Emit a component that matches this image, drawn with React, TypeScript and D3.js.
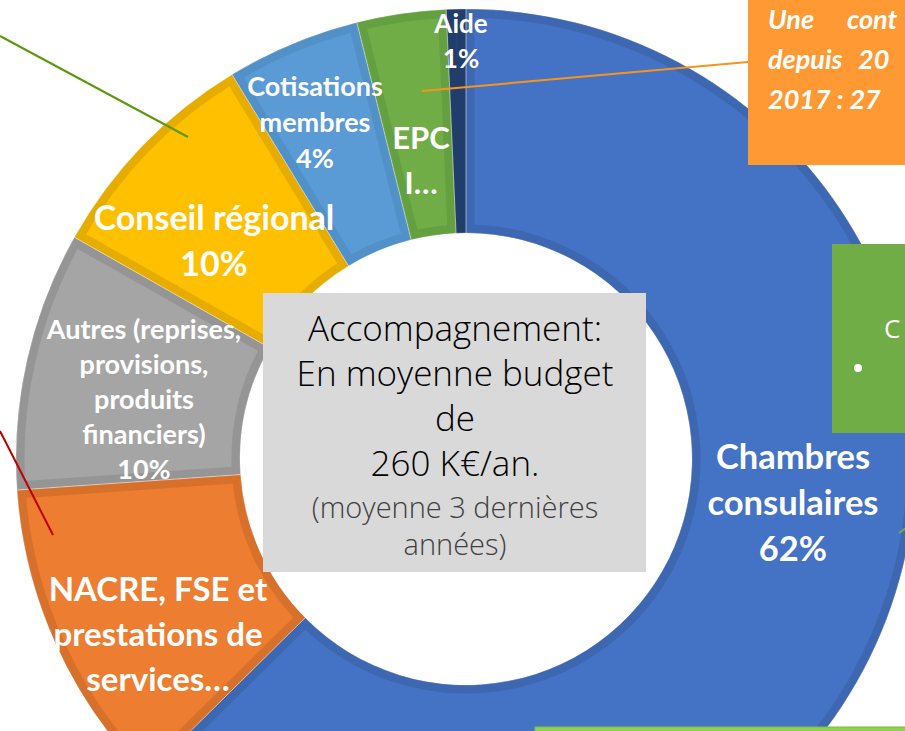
import React from "react";
import * as d3 from "d3";

// ---- Data ----
const categories = [
  "Chambres consulaires",
  "NACRE, FSE et prestations de services",
  "Autres (reprises, provisions, produits financiers)",
  "Conseil régional",
  "Cotisations membres",
  "EPCI",
  "Aide",
];
const values = [62.6, 11.3, 9.3, 8.1, 4.8, 3.2, 0.7];
const labelLines = [
  ["Chambres", "consulaires", "62%"],
  ["NACRE, FSE et", "prestations de", "services…"],
  ["Autres (reprises,", "provisions,", "produits", "financiers)", "10%"],
  ["Conseil régional", "10%"],
  ["Cotisations", "membres", "4%"],
  ["EPC", "I…"],
  ["Aide", "1%"],
];
const fills = ["#4472C4", "#ED7D31", "#A5A5A5", "#FFC000", "#5B9BD5", "#70AD47", "#264478"];
const borders = ["#3E67B1", "#D6702B", "#959595", "#E6AD00", "#5290C8", "#65A040", "#213D6B"];

const centerLines = ["Accompagnement:", "En moyenne budget", "de", "260 K€/an."];
const centerSubLines = ["(moyenne 3 dernières", "années)"];
const calloutWords = [
  ["Une", "cont"],
  ["depuis", "20"],
  ["2017 : 27"],
];

// ---- Layout ----
const W = 905, H = 731;
const cx = 466, cy = 459, R = 450, r = 226;
const labelLayout = [
  { x: 793, y: 455, size: 34.5, lh: 46 },
  { x: 158, y: 588, size: 33, lh: 45 },
  { x: 144, y: 328, size: 27, lh: 35 },
  { x: 214, y: 216, size: 34, lh: 46 },
  { x: 315, y: 85, size: 27, lh: 36 },
  { x: 421, y: 137, size: 31, lh: 45 },
  { x: 461, y: 23, size: 26, lh: 35 },
];
const calloutX = [
  [768, 847],
  [768, 858],
  [768],
];

export default function App() {
  const pie = d3.pie<number>().sort(null).value((d) => d).startAngle(0).endAngle(2 * Math.PI);
  const arcs = pie(values);
  const arc = d3.arc<d3.PieArcDatum<number>>().innerRadius(r).outerRadius(R);

  return (
    <svg
      width={W}
      height={H}
      viewBox={`0 0 ${W} ${H}`}
      style={{ position: "absolute", left: 0, top: 0, background: "#fff" }}
      fontFamily="Lato, 'Open Sans', sans-serif"
    >
      <defs>
        {arcs.map((a, i) => (
          <clipPath id={`clip-${i}`} key={i}>
            <path d={arc(a) || ""} />
          </clipPath>
        ))}
      </defs>

      {/* donut slices */}
      <g transform={`translate(${cx},${cy})`}>
        {arcs.map((a, i) => (
          <path
            key={categories[i]}
            d={arc(a) || ""}
            fill={fills[i]}
            stroke={borders[i]}
            strokeWidth={17}
            clipPath={`url(#clip-${i})`}
          />
        ))}
        {arcs.map((a, i) => (
          <path
            key={"sep" + i}
            d={arc(a) || ""}
            fill="none"
            stroke="#ffffff"
            strokeOpacity={0.35}
            strokeWidth={0.8}
          />
        ))}
      </g>

      {/* slice labels */}
      {labelLines.map((lines, i) => {
        const L = labelLayout[i];
        return (
          <text
            key={"lab" + i}
            x={L.x}
            y={L.y}
            fill="#ffffff"
            fontWeight="bold"
            fontSize={L.size}
            textAnchor="middle"
            dominantBaseline="central"
          >
            {lines.map((t, j) => (
              <tspan key={j} x={L.x} y={L.y + j * L.lh}>
                {t}
              </tspan>
            ))}
          </text>
        );
      })}

      {/* center grey box */}
      <rect x={263} y={293} width={383} height={279} fill="#D9D9D9" />
      <text
        textAnchor="middle"
        dominantBaseline="central"
        fontFamily="'Open Sans', sans-serif"
        fontWeight={300}
        fill="#000"
        fontSize={35}
      >
        {centerLines.map((t, j) => (
          <tspan key={j} x={455} y={327 + j * 45}>
            {t}
          </tspan>
        ))}
      </text>
      <text
        textAnchor="middle"
        dominantBaseline="central"
        fontFamily="'Open Sans', sans-serif"
        fontWeight={300}
        fill="#404040"
        fontSize={29}
      >
        {centerSubLines.map((t, j) => (
          <tspan key={j} x={455} y={506 + j * 37}>
            {t}
          </tspan>
        ))}
      </text>

      {/* orange callout box (top right) */}
      <rect x={748} y={-2} width={170} height={167} fill="#FF9933" />
      <text
        fill="#fff"
        fontWeight="bold"
        fontStyle="italic"
        fontSize={27}
        dominantBaseline="central"
        fontFamily="Lato, 'Open Sans', sans-serif"
      >
        {calloutWords.map((ws, j) =>
          ws.map((w, k) => (
            <tspan key={j + "-" + k} x={calloutX[j][k]} y={18 + j * 40}>
              {w}
            </tspan>
          ))
        )}
      </text>
      <line x1={422} y1={91} x2={748} y2={62} stroke="#F7941D" strokeWidth={2} />

      {/* green box (right) */}
      <rect x={832} y={244} width={80} height={189} fill="#70AD47" />
      <text x={884} y={328} fill="#fff" fontSize={26} dominantBaseline="central" fontFamily="'Open Sans', sans-serif">
        C
      </text>
      <circle cx={858} cy={368} r={4} fill="#fff" />
      <line x1={899} y1={533} x2={906} y2={528} stroke="#70AD47" strokeWidth={2} />

      {/* bottom green box */}
      <rect x={535} y={727} width={380} height={10} fill="#8FD14F" stroke="#7DBF45" strokeWidth={1} />

      {/* pointer lines from off-canvas callouts */}
      <line x1={0} y1={36} x2={188} y2={137} stroke="#5A9A08" strokeWidth={2} />
      <line x1={0} y1={431} x2={53} y2={535} stroke="#C00000" strokeWidth={2} />
    </svg>
  );
}
